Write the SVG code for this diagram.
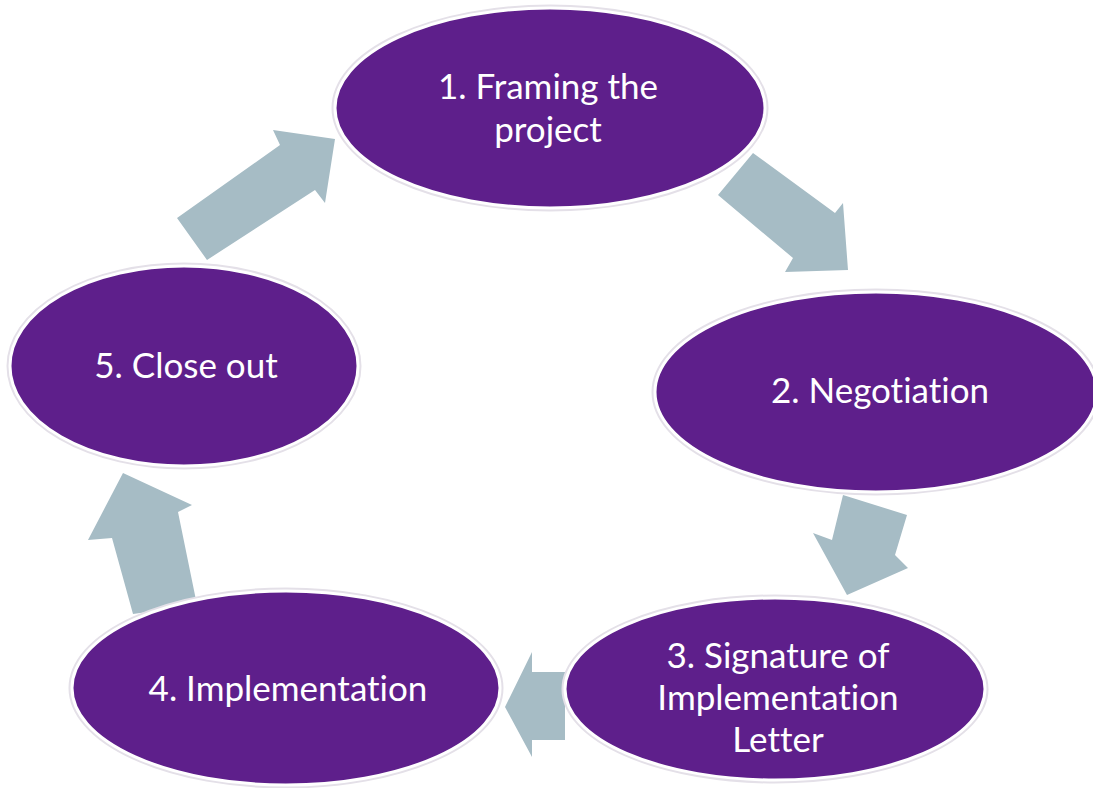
<svg xmlns="http://www.w3.org/2000/svg" width="1093" height="788" viewBox="0 0 1093 788">
<style>
.node{fill:#5e1f8b;stroke:#ffffff;stroke-width:3}
.halo{fill:none;stroke:#e4e0e8;stroke-width:5}
.lbl{fill:#ffffff;font-family:Lato,"Open Sans","Liberation Sans",sans-serif;font-size:35px;text-anchor:middle;font-variant-ligatures:none}
.arr{fill:#a6bcc5}
</style>
<rect width="1093" height="788" fill="#ffffff"/>
<g id="connectors">
<polygon class="arr" points="177,218 280,145 273,130 335,139 325,203 315,190 207,260"/>
<polygon class="arr" points="753,153 835,213 843,203 848,270 785,272 793,258 718,195"/>
<polygon class="arr" points="843,495 907,515 895,555 908,568 847,595 813,533 832,540"/>
<polygon class="arr" points="565,672 565,740 532,740 532,757 505,707 532,652 532,672"/>
<polygon class="arr" points="123,473 192,505 178,512 197,605 133,614 112,538 88,540"/>
</g>
<g id="node1">
<ellipse class="halo" cx="550" cy="108" rx="216" ry="101"/>
<ellipse class="node" cx="550" cy="108" rx="215" ry="100"/>
<text class="lbl" x="548" y="99">1. Framing the</text>
<text class="lbl" x="548" y="142">project</text>
</g>
<g id="node2">
<ellipse class="halo" cx="876" cy="392" rx="222" ry="101"/>
<ellipse class="node" cx="876" cy="392" rx="221" ry="100"/>
<text class="lbl" x="880" y="403">2. Negotiation</text>
</g>
<g id="node3">
<ellipse class="halo" cx="775" cy="689" rx="211" ry="92"/>
<ellipse class="node" cx="775" cy="689" rx="210" ry="91"/>
<text class="lbl" x="778" y="668">3. Signature of</text>
<text class="lbl" x="778" y="710">Implementation</text>
<text class="lbl" x="778" y="752">Letter</text>
</g>
<g id="node4">
<ellipse class="halo" cx="286" cy="688" rx="215" ry="98"/>
<ellipse class="node" cx="286" cy="688" rx="214" ry="97"/>
<text class="lbl" x="288" y="701">4. Implementation</text>
</g>
<g id="node5">
<ellipse class="halo" cx="184" cy="366" rx="175" ry="101"/>
<ellipse class="node" cx="184" cy="366" rx="174" ry="100"/>
<text class="lbl" x="186" y="378">5. Close out</text>
</g>
</svg>
